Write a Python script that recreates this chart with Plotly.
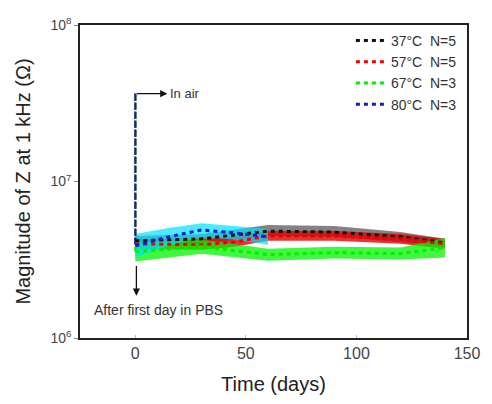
import math
import plotly.graph_objects as go

# ---- data ----
air_value = 3.64e7          # "In air" reading at day 0 (all groups)

days_37 = [0, 30, 60, 90, 120, 140]
mean_37 = [4.18e6, 4.30e6, 4.82e6, 4.75e6, 4.43e6, 4.06e6]
upper_37 = [4.49e6, 4.62e6, 5.27e6, 5.19e6, 4.75e6, 4.30e6]
lower_37 = [3.88e6, 4.00e6, 4.49e6, 4.43e6, 4.11e6, 3.83e6]

days_57 = [0, 30, 45, 60, 90, 120, 140]
mean_57 = [4.00e6, 3.94e6, 4.11e6, 4.49e6, 4.49e6, 4.30e6, 4.00e6]
upper_57 = [4.30e6, 4.24e6, 4.43e6, 4.82e6, 4.82e6, 4.62e6, 4.30e6]
lower_57 = [3.72e6, 3.67e6, 3.83e6, 4.18e6, 4.18e6, 4.00e6, 3.72e6]

days_67 = [0, 30, 60, 90, 120, 140]
mean_67 = [3.56e6, 3.83e6, 3.41e6, 3.51e6, 3.46e6, 3.78e6]
upper_67 = [4.11e6, 4.24e6, 3.72e6, 3.83e6, 3.78e6, 4.36e6]
lower_67 = [3.08e6, 3.46e6, 3.12e6, 3.22e6, 3.17e6, 3.27e6]

days_80 = [0, 15, 30, 45, 60]
mean_80 = [3.88e6, 4.43e6, 4.90e6, 4.69e6, 4.43e6]
upper_80 = [4.62e6, 5.04e6, 5.41e6, 5.19e6, 4.97e6]
lower_80 = [3.27e6, 3.88e6, 4.43e6, 4.24e6, 3.94e6]

labels = ["37°C\u00a0\u00a0N=5", "57°C\u00a0\u00a0N=5", "67°C\u00a0\u00a0N=3", "80°C\u00a0\u00a0N=3"]
x_ticks = [0, 50, 100, 150]
y_ticks = [1e6, 1e7, 1e8]
y_ticktext = ["10<sup>6</sup>", "10<sup>7</sup>", "10<sup>8</sup>"]

series = [
    (days_37, mean_37, upper_37, lower_37, "#111111", "rgba(90,90,90,0.75)"),
    (days_57, mean_57, upper_57, lower_57, "#ee0000", "rgba(225,0,0,0.8)"),
    (days_67, mean_67, upper_67, lower_67, "#00ee00", "rgba(0,245,0,0.75)"),
    (days_80, mean_80, upper_80, lower_80, "#1a1acc", "rgba(0,225,255,0.7)"),
]

fig = go.Figure()

# shaded bands
for d, m, up, lo, lc, fc in series:
    fig.add_trace(go.Scatter(
        x=list(d) + list(d)[::-1], y=list(up) + list(lo)[::-1],
        fill="toself", fillcolor=fc, mode="lines", line=dict(width=0),
        showlegend=False, hoverinfo="skip"))

# drop from in-air reading to first PBS reading
for d, m, up, lo, lc, fc in series:
    fig.add_trace(go.Scatter(
        x=[d[0], d[0]], y=[air_value, m[0]], mode="lines",
        line=dict(color=lc, width=2, dash="7px,2px"),
        showlegend=False, hoverinfo="skip"))

# dashed mean lines
for (d, m, up, lo, lc, fc), name in zip(series, labels):
    fig.add_trace(go.Scatter(
        x=d, y=m, mode="lines", name=name,
        line=dict(color=lc, width=3, dash="4px,4px")))

ly_air = math.log10(air_value)

annotations = [
    dict(x=14.5, y=ly_air, ax=0, ay=ly_air, xref="x", yref="y", axref="x", ayref="y",
         text="", showarrow=True, arrowhead=2, arrowsize=1.1, arrowwidth=1.3, arrowcolor="#111"),
    dict(x=15, y=ly_air, xref="x", yref="y", text="In air", showarrow=False,
         xanchor="left", yanchor="middle", font=dict(size=13, color="#333")),
    dict(x=0.5, y=6.27, ax=0.5, ay=6.47, xref="x", yref="y", axref="x", ayref="y",
         text="", showarrow=True, arrowhead=2, arrowsize=1.1, arrowwidth=1.3, arrowcolor="#111"),
    dict(x=10.5, y=6.18, xref="x", yref="y", text="After first day in PBS", showarrow=False,
         xanchor="center", yanchor="middle", font=dict(size=14, color="#333")),
]

fig.update_layout(
    width=492, height=404,
    margin=dict(l=80, r=15, t=25, b=60),
    paper_bgcolor="white", plot_bgcolor="white",
    font=dict(family="Liberation Sans, Arial, sans-serif", color="#222"),
    annotations=annotations,
    legend=dict(x=0.70, y=1.0, xanchor="left", yanchor="top",
                bgcolor="rgba(255,255,255,0)", borderwidth=0,
                font=dict(size=14, color="#333"), tracegroupgap=0, itemwidth=30),
)

fig.update_xaxes(
    range=[-25, 150], tickvals=x_ticks, showgrid=False, zeroline=False,
    showline=True, linecolor="#222", linewidth=1.5, mirror=True,
    ticks="inside", ticklen=3, tickcolor="#bbb",
    tickfont=dict(size=16, color="#444"),
    title=dict(text="Time (days)", font=dict(size=20, color="#222"), standoff=16))

fig.update_yaxes(
    type="log", range=[6, 8], tickvals=y_ticks, ticktext=y_ticktext,
    showgrid=False, zeroline=False,
    showline=True, linecolor="#222", linewidth=1.5, mirror=True,
    ticks="outside", ticklen=4, tickcolor="#888",
    tickfont=dict(size=14, color="#444"),
    title=dict(text="Magnitude of Z at 1 kHz (Ω)", font=dict(size=20, color="#222"), standoff=14))

fig.write_html("out.html")
